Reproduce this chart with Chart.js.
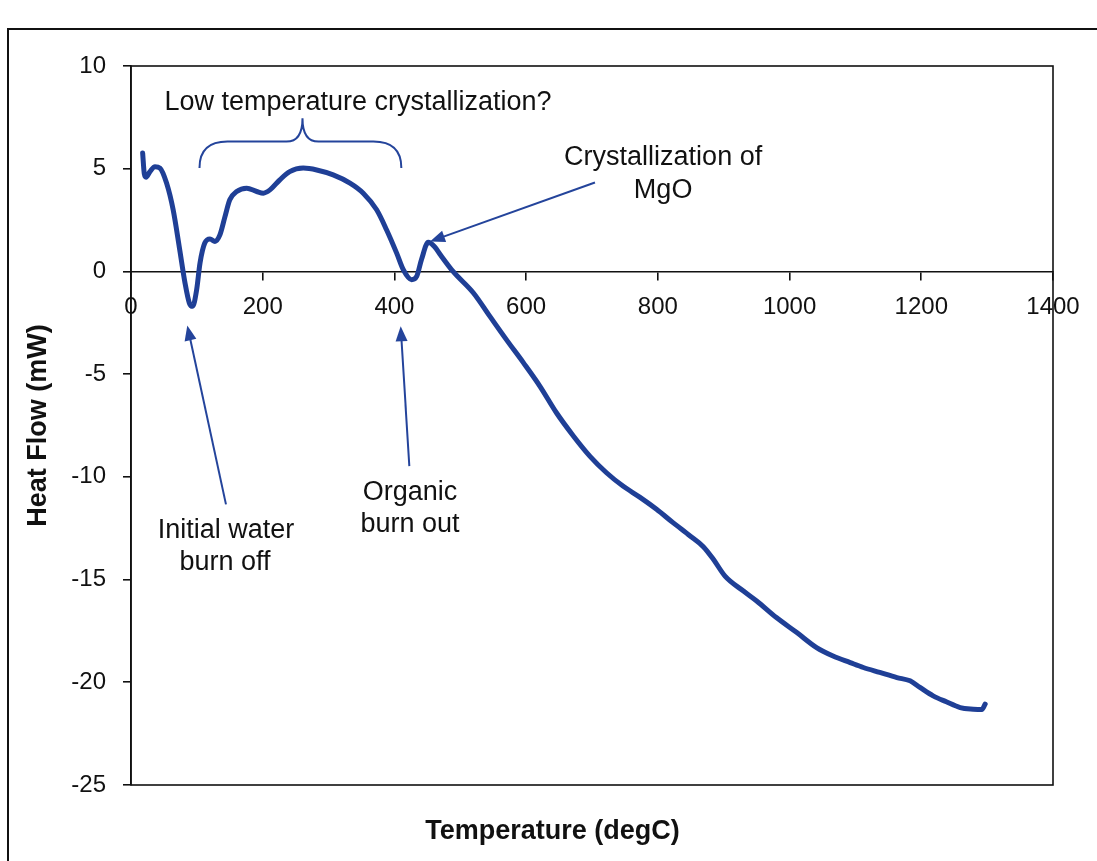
<!DOCTYPE html>
<html><head><meta charset="utf-8">
<script src="https://cdn.jsdelivr.net/npm/chart.js@4.4.1/dist/chart.umd.min.js"></script>
<style>html,body{margin:0;padding:0;background:#fff;}canvas{display:block;}</style>
</head><body>
<canvas id="c" width="1097" height="861"></canvas>
<script>
// ---- data ----
const temperature = [17.7, 20.2, 22.8, 28.8, 36.4, 44, 54, 64, 74, 82, 88.6, 93.6, 99.7, 104.8, 112, 120, 127.5, 135, 142.7, 150, 160.5, 175.7, 190.9, 201, 211, 226, 241, 261.6, 282, 307, 332.5, 352.7, 373, 388, 403.4, 413.5, 426, 433.8, 441, 451.4, 461, 470, 489, 520, 545, 570, 596, 621, 646, 672, 697, 722, 747, 773, 798, 823, 849, 869, 884, 902, 930, 950, 980, 1011, 1041, 1066, 1092, 1112, 1137, 1163, 1183, 1198, 1218, 1238, 1259, 1279, 1292, 1297];
const heatFlow = [5.76, 4.75, 4.59, 4.86, 5.10, 5.03, 4.30, 3.00, 1.05, -0.56, -1.54, -1.70, -0.89, 0.41, 1.38, 1.58, 1.46, 1.78, 2.67, 3.49, 3.89, 4.05, 3.89, 3.81, 3.97, 4.46, 4.86, 5.03, 4.94, 4.70, 4.30, 3.81, 3.00, 2.03, 0.89, 0.08, -0.40, -0.24, 0.57, 1.42, 1.20, 0.80, 0.00, -1.05, -2.19, -3.32, -4.45, -5.59, -6.88, -8.02, -9.00, -9.80, -10.45, -11.00, -11.58, -12.23, -12.88, -13.40, -14.00, -14.83, -15.56, -16.04, -16.85, -17.58, -18.31, -18.72, -19.04, -19.28, -19.52, -19.77, -19.93, -20.25, -20.66, -20.95, -21.23, -21.31, -21.33, -21.06];
const xTicks = [0, 200, 400, 600, 800, 1000, 1200, 1400];
const yTicks = [10, 5, 0, -5, -10, -15, -20, -25];
const xTitle = 'Temperature (degC)';
const yTitle = 'Heat Flow (mW)';

// annotation texts (anchored in data coordinates)
const labelTexts = [
  {text: 'Low temperature crystallization?', t: 344.7, hf: 8.20},
  {text: 'Crystallization of', t: 808, hf: 5.53},
  {text: 'MgO', t: 808, hf: 3.92},
  {text: 'Organic', t: 423.6, hf: -10.76},
  {text: 'burn out', t: 423.6, hf: -12.31},
  {text: 'Initial water', t: 144.2, hf: -12.63},
  {text: 'burn off', t: 142.7, hf: -14.18}
];
const arrows = [
  {t0: 704.5, hf0: 4.33, t1: 454, hf1: 1.46},
  {t0: 422.6, hf0: -9.48, t1: 409.5, hf1: -2.67},
  {t0: 144.2, hf0: -11.34, t1: 85.5, hf1: -2.63}
];
const brace = {tLeft: 104, tRight: 410.5, tTip: 260.4, hfEnd: 5.04, hfBar: 6.32, hfTip: 7.46};

// ---- styling ----
const lineColor = '#1f3f96';
const noteColor = '#24449b';
const textColor = '#111';
const titleFont = {family: '"Liberation Sans", Arial, sans-serif', size: 27, weight: 'bold', lineHeight: 1.2};
const tickFont = {family: '"Liberation Sans", Arial, sans-serif', size: 24};
const noteFont = '27px "Liberation Sans", Arial, sans-serif';

const framePlugin = {
  id: 'frame',
  beforeDraw(chart) {
    const ctx = chart.ctx;
    ctx.save();
    ctx.fillStyle = '#fff';
    ctx.fillRect(0, 0, chart.width, chart.height);
    ctx.strokeStyle = '#111';
    ctx.lineWidth = 2;
    ctx.strokeRect(8, 29, 1300, 1000);
    ctx.restore();
  },
  beforeDatasetsDraw(chart) {
    const {ctx, chartArea: a} = chart;
    ctx.save();
    ctx.strokeStyle = '#111';
    ctx.lineWidth = 1.6;
    ctx.strokeRect(a.left, a.top, a.right - a.left, a.bottom - a.top);
    ctx.restore();
  }
};

function arrowHead(ctx, x0, y0, x1, y1) {
  const ang = Math.atan2(y1 - y0, x1 - x0);
  const L = 15, W = 6;
  ctx.beginPath();
  ctx.moveTo(x1, y1);
  ctx.lineTo(x1 - L * Math.cos(ang) + W * Math.sin(ang), y1 - L * Math.sin(ang) - W * Math.cos(ang));
  ctx.lineTo(x1 - L * Math.cos(ang) - W * Math.sin(ang), y1 - L * Math.sin(ang) + W * Math.cos(ang));
  ctx.closePath();
  ctx.fill();
}

const notesPlugin = {
  id: 'notes',
  afterDatasetsDraw(chart) {
    const ctx = chart.ctx, xs = chart.scales.x, ys = chart.scales.y;
    ctx.save();
    ctx.strokeStyle = noteColor;
    ctx.fillStyle = noteColor;
    ctx.lineWidth = 2;
    arrows.forEach(a => {
      const x0 = xs.getPixelForValue(a.t0), y0 = ys.getPixelForValue(a.hf0);
      const x1 = xs.getPixelForValue(a.t1), y1 = ys.getPixelForValue(a.hf1);
      const ang = Math.atan2(y1 - y0, x1 - x0);
      ctx.beginPath();
      ctx.moveTo(x0, y0);
      ctx.lineTo(x1 - 10 * Math.cos(ang), y1 - 10 * Math.sin(ang));
      ctx.stroke();
      arrowHead(ctx, x0, y0, x1, y1);
    });
    const xl = xs.getPixelForValue(brace.tLeft), xr = xs.getPixelForValue(brace.tRight);
    const xm = xs.getPixelForValue(brace.tTip);
    const ye = ys.getPixelForValue(brace.hfEnd), yb = ys.getPixelForValue(brace.hfBar), yt = ys.getPixelForValue(brace.hfTip);
    const r = 28, r2 = 16;
    ctx.beginPath();
    ctx.moveTo(xl, ye);
    ctx.quadraticCurveTo(xl, yb, xl + r, yb);
    ctx.lineTo(xm - r2, yb);
    ctx.quadraticCurveTo(xm, yb, xm, yt);
    ctx.quadraticCurveTo(xm, yb, xm + r2, yb);
    ctx.lineTo(xr - r, yb);
    ctx.quadraticCurveTo(xr, yb, xr, ye);
    ctx.stroke();
    ctx.fillStyle = textColor;
    ctx.font = noteFont;
    ctx.textAlign = 'center';
    ctx.textBaseline = 'middle';
    labelTexts.forEach(l => {
      ctx.fillText(l.text, xs.getPixelForValue(l.t), ys.getPixelForValue(l.hf));
    });
    // x axis title, centred on the page below the plot
    ctx.font = 'bold 27px "Liberation Sans", Arial, sans-serif';
    ctx.fillText(xTitle, chart.width / 2 + 4, chart.chartArea.bottom + 47);
    ctx.restore();
  }
};

new Chart(document.getElementById('c'), {
  type: 'line',
  data: {
    datasets: [{
      data: temperature.map((t, i) => ({x: t, y: heatFlow[i]})),
      borderColor: lineColor,
      borderWidth: 5,
      pointRadius: 0,
      fill: false,
      cubicInterpolationMode: 'monotone',
      borderCapStyle: 'round',
      borderJoinStyle: 'round'
    }]
  },
  options: {
    responsive: false,
    animation: false,
    devicePixelRatio: 1,
    layout: {padding: {left: 0, right: 44, top: 66, bottom: 76}},
    plugins: {
      legend: {display: false},
      tooltip: {enabled: false},
      title: {display: false}
    },
    scales: {
      x: {
        type: 'linear',
        position: {y: 0},
        min: 0, max: 1400,
        afterBuildTicks: s => { s.ticks = xTicks.map(v => ({value: v})); },
        afterFit: s => { s.height = 0; },
        ticks: {
          autoSkip: false, maxRotation: 0, color: textColor, font: tickFont, padding: 14,
          callback: v => String(v)
        },
        grid: {drawOnChartArea: false, drawTicks: true, tickLength: 8, color: '#111', lineWidth: 1.6},
        border: {display: true, color: '#111', width: 1.6}
      },
      y: {
        type: 'linear',
        position: 'left',
        min: -25, max: 10,
        afterBuildTicks: s => { s.ticks = yTicks.map(v => ({value: v})); },
        afterFit: s => { s.width = 131; },
        ticks: {
          autoSkip: false, color: textColor, font: tickFont, padding: 17,
          callback: v => String(v)
        },
        grid: {drawOnChartArea: false, drawTicks: true, tickLength: 8, color: '#111', lineWidth: 1.6},
        border: {display: true, color: '#111', width: 1.6},
        title: {display: true, text: yTitle, color: textColor, font: titleFont, padding: {top: 22, bottom: 0}}
      }
    }
  },
  plugins: [framePlugin, notesPlugin]
});
</script>
</body></html>
